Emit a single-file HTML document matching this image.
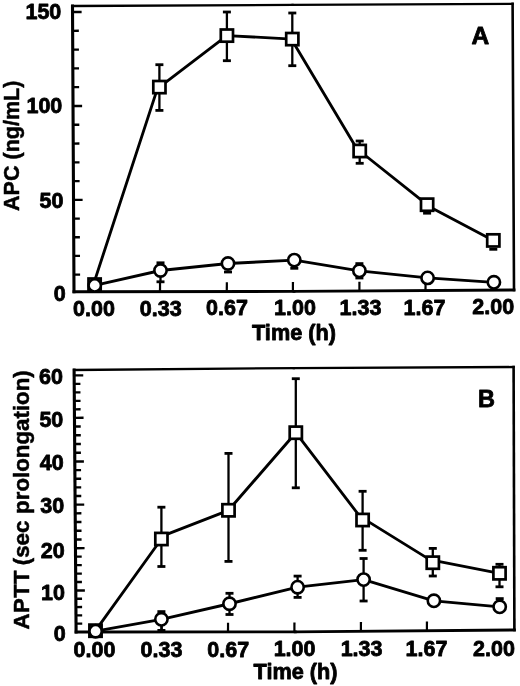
<!DOCTYPE html>
<html><head><meta charset="utf-8"><title>Figure</title>
<style>html,body{margin:0;padding:0;background:#fff}svg{display:block;filter:blur(0.45px)}</style></head>
<body><svg width="520" height="686" viewBox="0 0 520 686">
<rect width="520" height="686" fill="#fff"/>
<line x1="72.50" y1="6.00" x2="292.55" y2="4.95" stroke="#000" stroke-width="2.3" stroke-linecap="square"/>
<line x1="292.55" y1="4.95" x2="512.60" y2="3.90" stroke="#000" stroke-width="2.3" stroke-linecap="square"/>
<line x1="512.60" y1="3.90" x2="514.00" y2="290.00" stroke="#000" stroke-width="2.6" stroke-linecap="square"/>
<line x1="74.00" y1="291.80" x2="294.00" y2="291.40" stroke="#000" stroke-width="2.9" stroke-linecap="square"/>
<line x1="294.00" y1="291.40" x2="514.00" y2="290.00" stroke="#000" stroke-width="2.9" stroke-linecap="square"/>
<line x1="72.50" y1="6.00" x2="74.00" y2="291.80" stroke="#000" stroke-width="3.1" stroke-linecap="square"/>
<line x1="73.91" y1="274.62" x2="80.11" y2="274.59" stroke="#000" stroke-width="2.35" stroke-linecap="butt"/>
<line x1="73.81" y1="255.94" x2="80.01" y2="255.91" stroke="#000" stroke-width="2.35" stroke-linecap="butt"/>
<line x1="73.71" y1="237.26" x2="79.91" y2="237.23" stroke="#000" stroke-width="2.35" stroke-linecap="butt"/>
<line x1="73.62" y1="218.58" x2="79.82" y2="218.55" stroke="#000" stroke-width="2.35" stroke-linecap="butt"/>
<line x1="73.52" y1="199.90" x2="82.62" y2="199.86" stroke="#000" stroke-width="2.35" stroke-linecap="butt"/>
<line x1="73.42" y1="181.12" x2="79.62" y2="181.09" stroke="#000" stroke-width="2.35" stroke-linecap="butt"/>
<line x1="73.32" y1="162.34" x2="79.52" y2="162.31" stroke="#000" stroke-width="2.35" stroke-linecap="butt"/>
<line x1="73.22" y1="143.56" x2="79.42" y2="143.53" stroke="#000" stroke-width="2.35" stroke-linecap="butt"/>
<line x1="73.12" y1="124.78" x2="79.32" y2="124.75" stroke="#000" stroke-width="2.35" stroke-linecap="butt"/>
<line x1="73.02" y1="106.00" x2="82.12" y2="105.96" stroke="#000" stroke-width="2.35" stroke-linecap="butt"/>
<line x1="72.93" y1="87.20" x2="79.13" y2="87.17" stroke="#000" stroke-width="2.35" stroke-linecap="butt"/>
<line x1="72.83" y1="68.40" x2="79.03" y2="68.37" stroke="#000" stroke-width="2.35" stroke-linecap="butt"/>
<line x1="72.73" y1="49.60" x2="78.93" y2="49.57" stroke="#000" stroke-width="2.35" stroke-linecap="butt"/>
<line x1="72.63" y1="30.80" x2="78.83" y2="30.77" stroke="#000" stroke-width="2.35" stroke-linecap="butt"/>
<line x1="72.53" y1="12.00" x2="81.63" y2="11.96" stroke="#000" stroke-width="2.35" stroke-linecap="butt"/>
<text x="61.30" y="18.60" font-size="21.5" text-anchor="end" font-family="Liberation Sans, Arial, Helvetica, sans-serif" font-weight="bold" fill="#000" stroke="#000" stroke-width="0.8" stroke-linejoin="round" >150</text>
<text x="62.30" y="113.30" font-size="21.5" text-anchor="end" font-family="Liberation Sans, Arial, Helvetica, sans-serif" font-weight="bold" fill="#000" stroke="#000" stroke-width="0.8" stroke-linejoin="round" >100</text>
<text x="63.40" y="208.40" font-size="21.5" text-anchor="end" font-family="Liberation Sans, Arial, Helvetica, sans-serif" font-weight="bold" fill="#000" stroke="#000" stroke-width="0.8" stroke-linejoin="round" >50</text>
<text x="65.80" y="300.50" font-size="21.5" text-anchor="end" font-family="Liberation Sans, Arial, Helvetica, sans-serif" font-weight="bold" fill="#000" stroke="#000" stroke-width="0.8" stroke-linejoin="round" >0</text>
<line x1="160.00" y1="291.64" x2="160.04" y2="282.34" stroke="#000" stroke-width="2.2" stroke-linecap="butt"/>
<line x1="226.80" y1="291.52" x2="226.84" y2="282.22" stroke="#000" stroke-width="2.2" stroke-linecap="butt"/>
<line x1="292.90" y1="291.40" x2="292.94" y2="282.10" stroke="#000" stroke-width="2.2" stroke-linecap="butt"/>
<line x1="359.40" y1="290.98" x2="359.44" y2="281.68" stroke="#000" stroke-width="2.2" stroke-linecap="butt"/>
<line x1="425.50" y1="290.56" x2="425.54" y2="281.26" stroke="#000" stroke-width="2.2" stroke-linecap="butt"/>
<text x="94.00" y="315.80" font-size="21.5" text-anchor="middle" font-family="Liberation Sans, Arial, Helvetica, sans-serif" font-weight="bold" fill="#000" stroke="#000" stroke-width="0.8" stroke-linejoin="round" >0.00</text>
<text x="160.70" y="315.57" font-size="21.5" text-anchor="middle" font-family="Liberation Sans, Arial, Helvetica, sans-serif" font-weight="bold" fill="#000" stroke="#000" stroke-width="0.8" stroke-linejoin="round" >0.33</text>
<text x="227.00" y="315.33" font-size="21.5" text-anchor="middle" font-family="Liberation Sans, Arial, Helvetica, sans-serif" font-weight="bold" fill="#000" stroke="#000" stroke-width="0.8" stroke-linejoin="round" >0.67</text>
<text x="295.00" y="315.10" font-size="21.5" text-anchor="middle" font-family="Liberation Sans, Arial, Helvetica, sans-serif" font-weight="bold" fill="#000" stroke="#000" stroke-width="0.8" stroke-linejoin="round" >1.00</text>
<text x="360.50" y="314.87" font-size="21.5" text-anchor="middle" font-family="Liberation Sans, Arial, Helvetica, sans-serif" font-weight="bold" fill="#000" stroke="#000" stroke-width="0.8" stroke-linejoin="round" >1.33</text>
<text x="424.50" y="314.64" font-size="21.5" text-anchor="middle" font-family="Liberation Sans, Arial, Helvetica, sans-serif" font-weight="bold" fill="#000" stroke="#000" stroke-width="0.8" stroke-linejoin="round" >1.67</text>
<text x="493.20" y="314.40" font-size="21.5" text-anchor="middle" font-family="Liberation Sans, Arial, Helvetica, sans-serif" font-weight="bold" fill="#000" stroke="#000" stroke-width="0.8" stroke-linejoin="round" >2.00</text>
<text x="294.00" y="340.00" font-size="21.7" text-anchor="middle" font-family="Liberation Sans, Arial, Helvetica, sans-serif" font-weight="bold" fill="#000" stroke="#000" stroke-width="0.8" stroke-linejoin="round" >Time (h)</text>
<text transform="translate(19.10,145.80) rotate(-90) scale(0.953,1)" font-size="22.6" text-anchor="middle" font-family="Liberation Sans, Arial, Helvetica, sans-serif" font-weight="bold" fill="#000" stroke="#000" stroke-width="0.5" stroke-linejoin="round">APC (ng/mL)</text>
<text x="480.30" y="43.80" font-size="24.5" text-anchor="middle" font-family="Liberation Sans, Arial, Helvetica, sans-serif" font-weight="bold" fill="#000" stroke="#000" stroke-width="0.8" stroke-linejoin="round" >A</text>
<line x1="159.40" y1="64.70" x2="159.40" y2="110.40" stroke="#000" stroke-width="2.3" stroke-linecap="butt"/>
<line x1="155.40" y1="64.70" x2="163.40" y2="64.70" stroke="#000" stroke-width="2.8" stroke-linecap="butt"/>
<line x1="155.40" y1="110.40" x2="163.40" y2="110.40" stroke="#000" stroke-width="2.8" stroke-linecap="butt"/>
<line x1="226.90" y1="12.00" x2="226.90" y2="60.70" stroke="#000" stroke-width="2.3" stroke-linecap="butt"/>
<line x1="222.90" y1="12.00" x2="230.90" y2="12.00" stroke="#000" stroke-width="2.8" stroke-linecap="butt"/>
<line x1="222.90" y1="60.70" x2="230.90" y2="60.70" stroke="#000" stroke-width="2.8" stroke-linecap="butt"/>
<line x1="292.30" y1="13.00" x2="292.30" y2="65.70" stroke="#000" stroke-width="2.3" stroke-linecap="butt"/>
<line x1="288.30" y1="13.00" x2="296.30" y2="13.00" stroke="#000" stroke-width="2.8" stroke-linecap="butt"/>
<line x1="288.30" y1="65.70" x2="296.30" y2="65.70" stroke="#000" stroke-width="2.8" stroke-linecap="butt"/>
<line x1="359.70" y1="141.00" x2="359.70" y2="163.30" stroke="#000" stroke-width="2.3" stroke-linecap="butt"/>
<line x1="355.70" y1="141.00" x2="363.70" y2="141.00" stroke="#000" stroke-width="2.8" stroke-linecap="butt"/>
<line x1="355.70" y1="163.30" x2="363.70" y2="163.30" stroke="#000" stroke-width="2.8" stroke-linecap="butt"/>
<line x1="423.10" y1="213.20" x2="431.10" y2="213.20" stroke="#000" stroke-width="2.8" stroke-linecap="butt"/>
<line x1="489.30" y1="249.30" x2="497.30" y2="249.30" stroke="#000" stroke-width="2.8" stroke-linecap="butt"/>
<line x1="160.50" y1="262.80" x2="160.50" y2="281.80" stroke="#000" stroke-width="2.3" stroke-linecap="butt"/>
<line x1="156.50" y1="262.80" x2="164.50" y2="262.80" stroke="#000" stroke-width="2.8" stroke-linecap="butt"/>
<line x1="156.50" y1="281.80" x2="164.50" y2="281.80" stroke="#000" stroke-width="2.8" stroke-linecap="butt"/>
<line x1="224.00" y1="272.00" x2="232.00" y2="272.00" stroke="#000" stroke-width="2.8" stroke-linecap="butt"/>
<line x1="290.30" y1="268.30" x2="298.30" y2="268.30" stroke="#000" stroke-width="2.8" stroke-linecap="butt"/>
<line x1="359.40" y1="263.60" x2="359.40" y2="278.00" stroke="#000" stroke-width="2.3" stroke-linecap="butt"/>
<line x1="355.40" y1="263.60" x2="363.40" y2="263.60" stroke="#000" stroke-width="2.8" stroke-linecap="butt"/>
<line x1="355.40" y1="278.00" x2="363.40" y2="278.00" stroke="#000" stroke-width="2.8" stroke-linecap="butt"/>
<line x1="93.40" y1="284.60" x2="157.90" y2="87.10" stroke="#000" stroke-width="2.85" stroke-linecap="round"/>
<line x1="159.40" y1="87.10" x2="226.90" y2="35.60" stroke="#000" stroke-width="2.85" stroke-linecap="round"/>
<line x1="226.90" y1="35.60" x2="292.30" y2="39.10" stroke="#000" stroke-width="2.85" stroke-linecap="round"/>
<line x1="291.30" y1="39.10" x2="358.20" y2="151.00" stroke="#000" stroke-width="2.85" stroke-linecap="round"/>
<line x1="359.70" y1="151.00" x2="427.10" y2="204.70" stroke="#000" stroke-width="2.85" stroke-linecap="round"/>
<line x1="429.00" y1="206.40" x2="493.30" y2="240.40" stroke="#000" stroke-width="2.85" stroke-linecap="round"/>
<line x1="94.75" y1="285.40" x2="160.50" y2="270.50" stroke="#000" stroke-width="2.85" stroke-linecap="round"/>
<line x1="160.50" y1="270.50" x2="228.00" y2="263.50" stroke="#000" stroke-width="2.85" stroke-linecap="round"/>
<line x1="228.00" y1="263.50" x2="294.30" y2="260.10" stroke="#000" stroke-width="2.85" stroke-linecap="round"/>
<line x1="294.30" y1="260.10" x2="359.40" y2="270.80" stroke="#000" stroke-width="2.85" stroke-linecap="round"/>
<line x1="359.40" y1="270.80" x2="427.60" y2="277.90" stroke="#000" stroke-width="2.85" stroke-linecap="round"/>
<line x1="427.60" y1="277.90" x2="493.90" y2="282.30" stroke="#000" stroke-width="2.85" stroke-linecap="round"/>
<rect x="88.50" y="278.50" width="12.2" height="12.2" fill="#fff" stroke="#000" stroke-width="2.7"/>
<rect x="153.30" y="81.00" width="12.2" height="12.2" fill="#fff" stroke="#000" stroke-width="2.7"/>
<rect x="220.80" y="29.50" width="12.2" height="12.2" fill="#fff" stroke="#000" stroke-width="2.7"/>
<rect x="286.20" y="33.00" width="12.2" height="12.2" fill="#fff" stroke="#000" stroke-width="2.7"/>
<rect x="353.60" y="144.90" width="12.2" height="12.2" fill="#fff" stroke="#000" stroke-width="2.7"/>
<rect x="421.00" y="198.60" width="12.2" height="12.2" fill="#fff" stroke="#000" stroke-width="2.7"/>
<rect x="487.20" y="234.30" width="12.2" height="12.2" fill="#fff" stroke="#000" stroke-width="2.7"/>
<circle cx="94.75" cy="285.40" r="6.15" fill="#fff" stroke="#000" stroke-width="2.6"/>
<circle cx="160.50" cy="270.50" r="6.15" fill="#fff" stroke="#000" stroke-width="2.6"/>
<circle cx="228.00" cy="263.50" r="6.15" fill="#fff" stroke="#000" stroke-width="2.6"/>
<circle cx="294.30" cy="260.10" r="6.15" fill="#fff" stroke="#000" stroke-width="2.6"/>
<circle cx="359.40" cy="270.80" r="6.15" fill="#fff" stroke="#000" stroke-width="2.6"/>
<circle cx="427.60" cy="277.90" r="6.15" fill="#fff" stroke="#000" stroke-width="2.6"/>
<circle cx="493.90" cy="282.30" r="6.15" fill="#fff" stroke="#000" stroke-width="2.6"/>
<line x1="74.10" y1="370.00" x2="293.85" y2="368.10" stroke="#000" stroke-width="2.3" stroke-linecap="square"/>
<line x1="293.85" y1="368.10" x2="513.60" y2="367.00" stroke="#000" stroke-width="2.3" stroke-linecap="square"/>
<line x1="513.60" y1="367.00" x2="514.40" y2="630.00" stroke="#000" stroke-width="2.6" stroke-linecap="square"/>
<line x1="76.10" y1="632.00" x2="295.25" y2="631.90" stroke="#000" stroke-width="2.9" stroke-linecap="square"/>
<line x1="295.25" y1="631.90" x2="514.40" y2="630.00" stroke="#000" stroke-width="2.9" stroke-linecap="square"/>
<line x1="74.10" y1="370.00" x2="76.10" y2="632.00" stroke="#000" stroke-width="3.1" stroke-linecap="square"/>
<line x1="76.04" y1="623.62" x2="82.24" y2="623.59" stroke="#000" stroke-width="2.35" stroke-linecap="butt"/>
<line x1="75.97" y1="615.34" x2="82.17" y2="615.31" stroke="#000" stroke-width="2.35" stroke-linecap="butt"/>
<line x1="75.91" y1="607.06" x2="82.11" y2="607.03" stroke="#000" stroke-width="2.35" stroke-linecap="butt"/>
<line x1="75.85" y1="598.78" x2="82.05" y2="598.75" stroke="#000" stroke-width="2.35" stroke-linecap="butt"/>
<line x1="75.78" y1="590.50" x2="84.88" y2="590.46" stroke="#000" stroke-width="2.35" stroke-linecap="butt"/>
<line x1="75.72" y1="582.04" x2="81.92" y2="582.01" stroke="#000" stroke-width="2.35" stroke-linecap="butt"/>
<line x1="75.65" y1="573.58" x2="81.85" y2="573.55" stroke="#000" stroke-width="2.35" stroke-linecap="butt"/>
<line x1="75.59" y1="565.12" x2="81.79" y2="565.09" stroke="#000" stroke-width="2.35" stroke-linecap="butt"/>
<line x1="75.52" y1="556.66" x2="81.72" y2="556.63" stroke="#000" stroke-width="2.35" stroke-linecap="butt"/>
<line x1="75.46" y1="548.20" x2="84.56" y2="548.16" stroke="#000" stroke-width="2.35" stroke-linecap="butt"/>
<line x1="75.39" y1="539.48" x2="81.59" y2="539.45" stroke="#000" stroke-width="2.35" stroke-linecap="butt"/>
<line x1="75.33" y1="530.76" x2="81.53" y2="530.73" stroke="#000" stroke-width="2.35" stroke-linecap="butt"/>
<line x1="75.26" y1="522.04" x2="81.46" y2="522.01" stroke="#000" stroke-width="2.35" stroke-linecap="butt"/>
<line x1="75.19" y1="513.32" x2="81.39" y2="513.29" stroke="#000" stroke-width="2.35" stroke-linecap="butt"/>
<line x1="75.13" y1="504.60" x2="84.23" y2="504.56" stroke="#000" stroke-width="2.35" stroke-linecap="butt"/>
<line x1="75.06" y1="495.98" x2="81.26" y2="495.95" stroke="#000" stroke-width="2.35" stroke-linecap="butt"/>
<line x1="75.00" y1="487.36" x2="81.20" y2="487.33" stroke="#000" stroke-width="2.35" stroke-linecap="butt"/>
<line x1="74.93" y1="478.74" x2="81.13" y2="478.71" stroke="#000" stroke-width="2.35" stroke-linecap="butt"/>
<line x1="74.86" y1="470.12" x2="81.06" y2="470.09" stroke="#000" stroke-width="2.35" stroke-linecap="butt"/>
<line x1="74.80" y1="461.50" x2="83.90" y2="461.46" stroke="#000" stroke-width="2.35" stroke-linecap="butt"/>
<line x1="74.73" y1="452.76" x2="80.93" y2="452.73" stroke="#000" stroke-width="2.35" stroke-linecap="butt"/>
<line x1="74.67" y1="444.02" x2="80.87" y2="443.99" stroke="#000" stroke-width="2.35" stroke-linecap="butt"/>
<line x1="74.60" y1="435.28" x2="80.80" y2="435.25" stroke="#000" stroke-width="2.35" stroke-linecap="butt"/>
<line x1="74.53" y1="426.54" x2="80.73" y2="426.51" stroke="#000" stroke-width="2.35" stroke-linecap="butt"/>
<line x1="74.46" y1="417.80" x2="83.56" y2="417.76" stroke="#000" stroke-width="2.35" stroke-linecap="butt"/>
<line x1="74.40" y1="409.32" x2="80.60" y2="409.29" stroke="#000" stroke-width="2.35" stroke-linecap="butt"/>
<line x1="74.34" y1="400.84" x2="80.54" y2="400.81" stroke="#000" stroke-width="2.35" stroke-linecap="butt"/>
<line x1="74.27" y1="392.36" x2="80.47" y2="392.33" stroke="#000" stroke-width="2.35" stroke-linecap="butt"/>
<line x1="74.21" y1="383.88" x2="80.41" y2="383.85" stroke="#000" stroke-width="2.35" stroke-linecap="butt"/>
<line x1="74.14" y1="375.40" x2="83.24" y2="375.36" stroke="#000" stroke-width="2.35" stroke-linecap="butt"/>
<text x="62.90" y="384.10" font-size="21.5" text-anchor="end" font-family="Liberation Sans, Arial, Helvetica, sans-serif" font-weight="bold" fill="#000" stroke="#000" stroke-width="0.8" stroke-linejoin="round" >60</text>
<text x="63.30" y="426.90" font-size="21.5" text-anchor="end" font-family="Liberation Sans, Arial, Helvetica, sans-serif" font-weight="bold" fill="#000" stroke="#000" stroke-width="0.8" stroke-linejoin="round" >50</text>
<text x="63.70" y="470.00" font-size="21.5" text-anchor="end" font-family="Liberation Sans, Arial, Helvetica, sans-serif" font-weight="bold" fill="#000" stroke="#000" stroke-width="0.8" stroke-linejoin="round" >40</text>
<text x="64.10" y="512.90" font-size="21.5" text-anchor="end" font-family="Liberation Sans, Arial, Helvetica, sans-serif" font-weight="bold" fill="#000" stroke="#000" stroke-width="0.8" stroke-linejoin="round" >30</text>
<text x="64.60" y="557.60" font-size="21.5" text-anchor="end" font-family="Liberation Sans, Arial, Helvetica, sans-serif" font-weight="bold" fill="#000" stroke="#000" stroke-width="0.8" stroke-linejoin="round" >20</text>
<text x="64.90" y="600.00" font-size="21.5" text-anchor="end" font-family="Liberation Sans, Arial, Helvetica, sans-serif" font-weight="bold" fill="#000" stroke="#000" stroke-width="0.8" stroke-linejoin="round" >10</text>
<text x="65.70" y="640.80" font-size="21.5" text-anchor="end" font-family="Liberation Sans, Arial, Helvetica, sans-serif" font-weight="bold" fill="#000" stroke="#000" stroke-width="0.8" stroke-linejoin="round" >0</text>
<line x1="161.70" y1="631.96" x2="161.74" y2="622.66" stroke="#000" stroke-width="2.2" stroke-linecap="butt"/>
<line x1="228.00" y1="631.93" x2="228.04" y2="622.63" stroke="#000" stroke-width="2.2" stroke-linecap="butt"/>
<line x1="294.40" y1="631.90" x2="294.44" y2="622.60" stroke="#000" stroke-width="2.2" stroke-linecap="butt"/>
<line x1="360.90" y1="631.33" x2="360.94" y2="622.03" stroke="#000" stroke-width="2.2" stroke-linecap="butt"/>
<line x1="426.90" y1="630.76" x2="426.94" y2="621.46" stroke="#000" stroke-width="2.2" stroke-linecap="butt"/>
<text x="94.50" y="657.00" font-size="21.5" text-anchor="middle" font-family="Liberation Sans, Arial, Helvetica, sans-serif" font-weight="bold" fill="#000" stroke="#000" stroke-width="0.8" stroke-linejoin="round" >0.00</text>
<text x="161.50" y="656.76" font-size="21.5" text-anchor="middle" font-family="Liberation Sans, Arial, Helvetica, sans-serif" font-weight="bold" fill="#000" stroke="#000" stroke-width="0.8" stroke-linejoin="round" >0.33</text>
<text x="228.30" y="656.53" font-size="21.5" text-anchor="middle" font-family="Liberation Sans, Arial, Helvetica, sans-serif" font-weight="bold" fill="#000" stroke="#000" stroke-width="0.8" stroke-linejoin="round" >0.67</text>
<text x="294.60" y="656.30" font-size="21.5" text-anchor="middle" font-family="Liberation Sans, Arial, Helvetica, sans-serif" font-weight="bold" fill="#000" stroke="#000" stroke-width="0.8" stroke-linejoin="round" >1.00</text>
<text x="361.60" y="656.06" font-size="21.5" text-anchor="middle" font-family="Liberation Sans, Arial, Helvetica, sans-serif" font-weight="bold" fill="#000" stroke="#000" stroke-width="0.8" stroke-linejoin="round" >1.33</text>
<text x="426.50" y="655.84" font-size="21.5" text-anchor="middle" font-family="Liberation Sans, Arial, Helvetica, sans-serif" font-weight="bold" fill="#000" stroke="#000" stroke-width="0.8" stroke-linejoin="round" >1.67</text>
<text x="494.00" y="655.60" font-size="21.5" text-anchor="middle" font-family="Liberation Sans, Arial, Helvetica, sans-serif" font-weight="bold" fill="#000" stroke="#000" stroke-width="0.8" stroke-linejoin="round" >2.00</text>
<text x="295.60" y="679.30" font-size="21.7" text-anchor="middle" font-family="Liberation Sans, Arial, Helvetica, sans-serif" font-weight="bold" fill="#000" stroke="#000" stroke-width="0.8" stroke-linejoin="round" >Time (h)</text>
<text transform="translate(28.70,629.40) rotate(-90)" font-size="22.3" letter-spacing="0.3" text-anchor="start" font-family="Liberation Sans, Arial, Helvetica, sans-serif" font-weight="bold" fill="#000" stroke="#000" stroke-width="0.5" stroke-linejoin="round">APTT</text>
<text transform="translate(28.70,565.30) rotate(-90)" font-size="22.3" letter-spacing="0" text-anchor="start" font-family="Liberation Sans, Arial, Helvetica, sans-serif" font-weight="bold" fill="#000" stroke="#000" stroke-width="0.5" stroke-linejoin="round">(sec</text>
<text transform="translate(28.70,513.90) rotate(-90)" font-size="22.3" letter-spacing="0" text-anchor="start" font-family="Liberation Sans, Arial, Helvetica, sans-serif" font-weight="bold" fill="#000" stroke="#000" stroke-width="0.5" stroke-linejoin="round">prolongation)</text>
<text x="486.40" y="406.60" font-size="23.5" text-anchor="middle" font-family="Liberation Sans, Arial, Helvetica, sans-serif" font-weight="bold" fill="#000" stroke="#000" stroke-width="0.8" stroke-linejoin="round" >B</text>
<line x1="161.40" y1="507.20" x2="161.40" y2="566.50" stroke="#000" stroke-width="2.3" stroke-linecap="butt"/>
<line x1="157.40" y1="507.20" x2="165.40" y2="507.20" stroke="#000" stroke-width="2.8" stroke-linecap="butt"/>
<line x1="157.40" y1="566.50" x2="165.40" y2="566.50" stroke="#000" stroke-width="2.8" stroke-linecap="butt"/>
<line x1="228.50" y1="453.40" x2="228.50" y2="561.40" stroke="#000" stroke-width="2.3" stroke-linecap="butt"/>
<line x1="224.50" y1="453.40" x2="232.50" y2="453.40" stroke="#000" stroke-width="2.8" stroke-linecap="butt"/>
<line x1="224.50" y1="561.40" x2="232.50" y2="561.40" stroke="#000" stroke-width="2.8" stroke-linecap="butt"/>
<line x1="295.80" y1="378.70" x2="295.80" y2="487.80" stroke="#000" stroke-width="2.3" stroke-linecap="butt"/>
<line x1="291.80" y1="378.70" x2="299.80" y2="378.70" stroke="#000" stroke-width="2.8" stroke-linecap="butt"/>
<line x1="291.80" y1="487.80" x2="299.80" y2="487.80" stroke="#000" stroke-width="2.8" stroke-linecap="butt"/>
<line x1="362.60" y1="491.30" x2="362.60" y2="550.30" stroke="#000" stroke-width="2.3" stroke-linecap="butt"/>
<line x1="358.60" y1="491.30" x2="366.60" y2="491.30" stroke="#000" stroke-width="2.8" stroke-linecap="butt"/>
<line x1="358.60" y1="550.30" x2="366.60" y2="550.30" stroke="#000" stroke-width="2.8" stroke-linecap="butt"/>
<line x1="432.80" y1="548.40" x2="432.80" y2="576.00" stroke="#000" stroke-width="2.3" stroke-linecap="butt"/>
<line x1="428.80" y1="548.40" x2="436.80" y2="548.40" stroke="#000" stroke-width="2.8" stroke-linecap="butt"/>
<line x1="428.80" y1="576.00" x2="436.80" y2="576.00" stroke="#000" stroke-width="2.8" stroke-linecap="butt"/>
<line x1="499.50" y1="564.30" x2="499.50" y2="586.80" stroke="#000" stroke-width="2.3" stroke-linecap="butt"/>
<line x1="495.50" y1="564.30" x2="503.50" y2="564.30" stroke="#000" stroke-width="2.8" stroke-linecap="butt"/>
<line x1="495.50" y1="586.80" x2="503.50" y2="586.80" stroke="#000" stroke-width="2.8" stroke-linecap="butt"/>
<line x1="161.40" y1="611.60" x2="161.40" y2="630.40" stroke="#000" stroke-width="2.3" stroke-linecap="butt"/>
<line x1="157.40" y1="611.60" x2="165.40" y2="611.60" stroke="#000" stroke-width="2.8" stroke-linecap="butt"/>
<line x1="157.40" y1="630.40" x2="165.40" y2="630.40" stroke="#000" stroke-width="2.8" stroke-linecap="butt"/>
<line x1="229.50" y1="593.30" x2="229.50" y2="614.50" stroke="#000" stroke-width="2.3" stroke-linecap="butt"/>
<line x1="225.50" y1="593.30" x2="233.50" y2="593.30" stroke="#000" stroke-width="2.8" stroke-linecap="butt"/>
<line x1="225.50" y1="614.50" x2="233.50" y2="614.50" stroke="#000" stroke-width="2.8" stroke-linecap="butt"/>
<line x1="297.60" y1="576.10" x2="297.60" y2="597.40" stroke="#000" stroke-width="2.3" stroke-linecap="butt"/>
<line x1="293.60" y1="576.10" x2="301.60" y2="576.10" stroke="#000" stroke-width="2.8" stroke-linecap="butt"/>
<line x1="293.60" y1="597.40" x2="301.60" y2="597.40" stroke="#000" stroke-width="2.8" stroke-linecap="butt"/>
<line x1="363.60" y1="558.50" x2="363.60" y2="601.00" stroke="#000" stroke-width="2.3" stroke-linecap="butt"/>
<line x1="359.60" y1="558.50" x2="367.60" y2="558.50" stroke="#000" stroke-width="2.8" stroke-linecap="butt"/>
<line x1="359.60" y1="601.00" x2="367.60" y2="601.00" stroke="#000" stroke-width="2.8" stroke-linecap="butt"/>
<line x1="495.70" y1="598.60" x2="503.70" y2="598.60" stroke="#000" stroke-width="2.8" stroke-linecap="butt"/>
<line x1="95.50" y1="630.70" x2="161.40" y2="539.00" stroke="#000" stroke-width="2.85" stroke-linecap="round"/>
<line x1="163.50" y1="535.60" x2="228.50" y2="510.30" stroke="#000" stroke-width="2.85" stroke-linecap="round"/>
<line x1="228.50" y1="510.30" x2="295.80" y2="432.70" stroke="#000" stroke-width="2.85" stroke-linecap="round"/>
<line x1="295.80" y1="432.70" x2="362.60" y2="520.00" stroke="#000" stroke-width="2.85" stroke-linecap="round"/>
<line x1="363.50" y1="518.60" x2="431.30" y2="560.60" stroke="#000" stroke-width="2.85" stroke-linecap="round"/>
<line x1="434.50" y1="560.60" x2="499.50" y2="573.30" stroke="#000" stroke-width="2.85" stroke-linecap="round"/>
<line x1="95.60" y1="631.20" x2="161.40" y2="619.30" stroke="#000" stroke-width="2.85" stroke-linecap="round"/>
<line x1="161.40" y1="619.30" x2="229.50" y2="603.75" stroke="#000" stroke-width="2.85" stroke-linecap="round"/>
<line x1="229.50" y1="603.75" x2="297.60" y2="587.20" stroke="#000" stroke-width="2.85" stroke-linecap="round"/>
<line x1="297.60" y1="587.20" x2="363.60" y2="579.60" stroke="#000" stroke-width="2.85" stroke-linecap="round"/>
<line x1="363.60" y1="579.60" x2="433.90" y2="600.80" stroke="#000" stroke-width="2.85" stroke-linecap="round"/>
<line x1="433.90" y1="600.80" x2="499.70" y2="606.80" stroke="#000" stroke-width="2.85" stroke-linecap="round"/>
<rect x="89.40" y="624.60" width="12.2" height="12.2" fill="#fff" stroke="#000" stroke-width="2.7"/>
<rect x="155.30" y="532.90" width="12.2" height="12.2" fill="#fff" stroke="#000" stroke-width="2.7"/>
<rect x="222.40" y="504.20" width="12.2" height="12.2" fill="#fff" stroke="#000" stroke-width="2.7"/>
<rect x="289.70" y="426.60" width="12.2" height="12.2" fill="#fff" stroke="#000" stroke-width="2.7"/>
<rect x="356.50" y="513.90" width="12.2" height="12.2" fill="#fff" stroke="#000" stroke-width="2.7"/>
<rect x="426.70" y="556.60" width="12.2" height="12.2" fill="#fff" stroke="#000" stroke-width="2.7"/>
<rect x="493.40" y="567.20" width="12.2" height="12.2" fill="#fff" stroke="#000" stroke-width="2.7"/>
<circle cx="95.60" cy="631.20" r="6.15" fill="#fff" stroke="#000" stroke-width="2.6"/>
<circle cx="161.40" cy="619.30" r="6.15" fill="#fff" stroke="#000" stroke-width="2.6"/>
<circle cx="229.50" cy="603.75" r="6.15" fill="#fff" stroke="#000" stroke-width="2.6"/>
<circle cx="297.60" cy="587.20" r="6.15" fill="#fff" stroke="#000" stroke-width="2.6"/>
<circle cx="363.60" cy="579.60" r="6.15" fill="#fff" stroke="#000" stroke-width="2.6"/>
<circle cx="433.90" cy="600.80" r="6.15" fill="#fff" stroke="#000" stroke-width="2.6"/>
<circle cx="499.70" cy="606.80" r="6.15" fill="#fff" stroke="#000" stroke-width="2.6"/>
</svg></body></html>
